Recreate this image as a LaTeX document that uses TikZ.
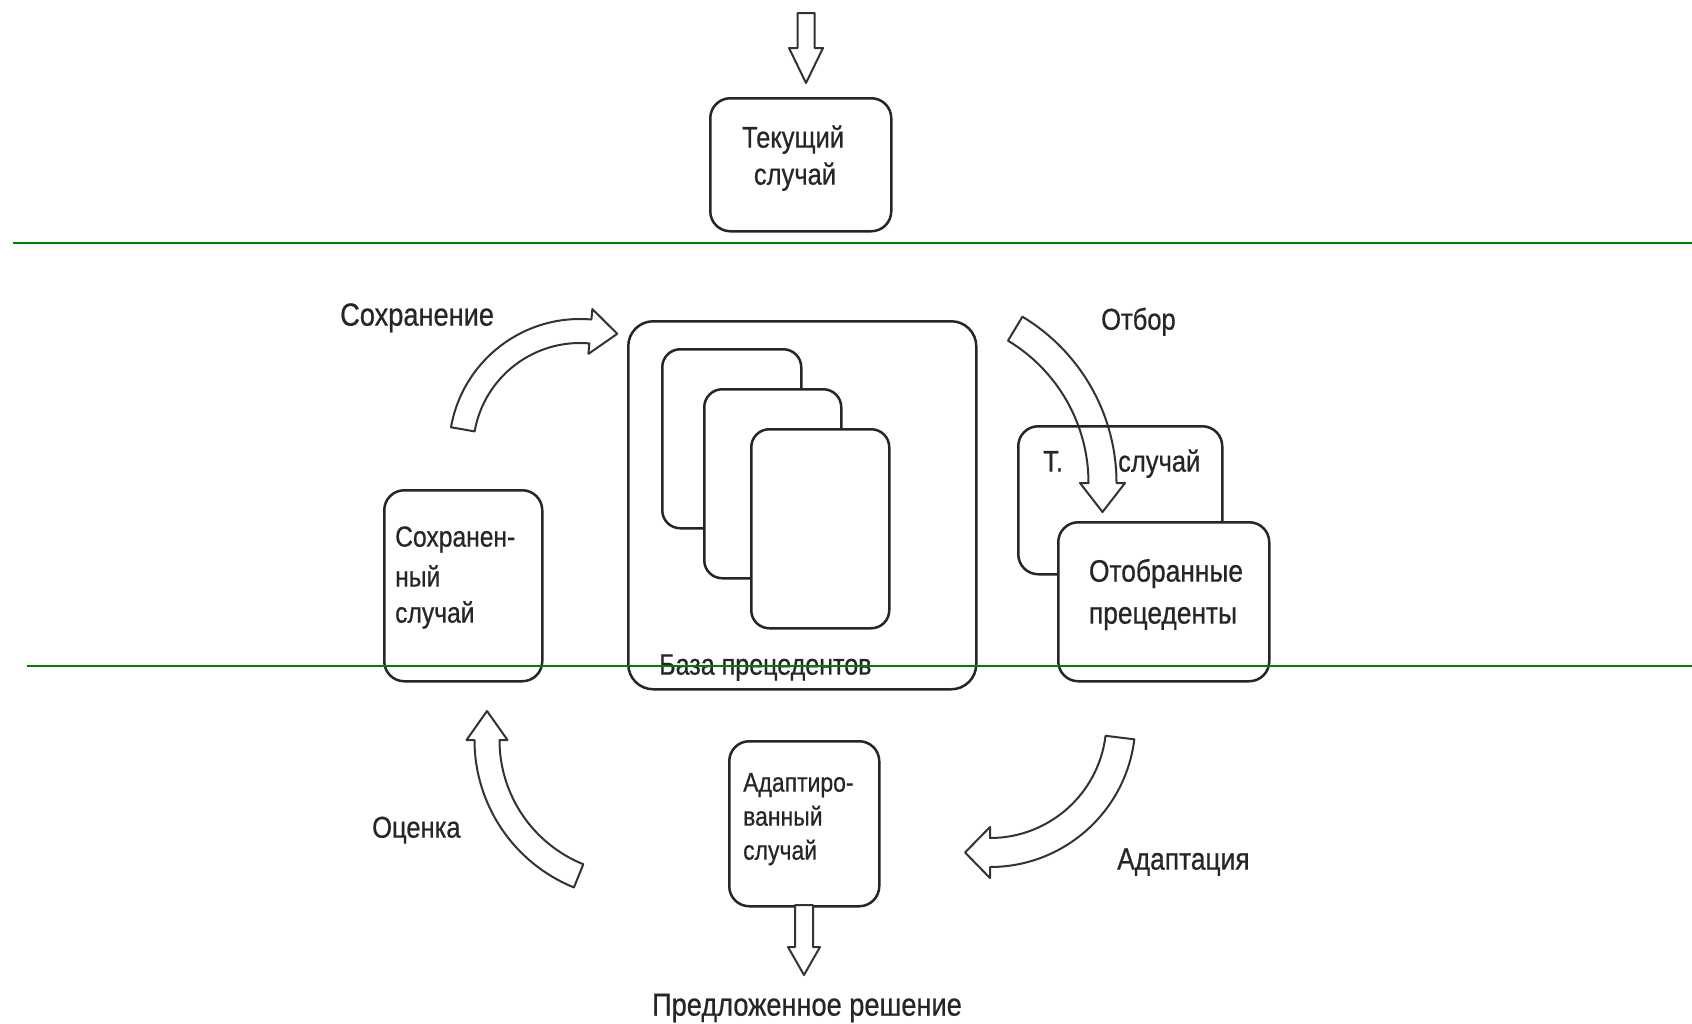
\documentclass[tikz,border=0pt]{standalone}
\usepackage{fontspec}
\setmainfont{Liberation Sans}[FakeStretch=0.85,FakeBold=0.6]
\usetikzlibrary{calc}
\definecolor{guidegreen}{RGB}{0,128,0}
\newcommand{\cbarrow}[9]{%
  \pgfmathsetmacro\cbRo{#3+#6}%
  \pgfmathsetmacro\cbRi{#3-#6}%
  \pgfmathsetmacro\cbHo{#3+#7}%
  \pgfmathsetmacro\cbHi{#3-#7}%
  \pgfmathsetmacro\cbTa{#5+#9*90}%
  \draw[blockarrow] ($(#1,#2)+(#4:\cbRo)$) arc[start angle=#4, end angle=#5, radius=\cbRo]
    -- ($(#1,#2)+(#5:\cbHo)$) -- ($(#1,#2)+(#5:#3)+(\cbTa:#8)$)
    -- ($(#1,#2)+(#5:\cbHi)$) -- ($(#1,#2)+(#5:\cbRi)$)
    arc[start angle=#5, end angle=#4, radius=\cbRi] -- cycle;}
\tikzset{
  box/.style={draw=black!85, line width=2.5pt, rounded corners=20pt, fill=white, inner sep=0pt, anchor=north west},
  lbl/.style={inner sep=0pt, font=\fontsize{30}{37}\selectfont, text=black!85},
  blockarrow/.style={draw=black!80, line width=2pt, fill=white, line join=round},
  guide/.style={draw=guidegreen, line width=2pt}
}
\begin{document}
\begin{tikzpicture}[x=1pt,y=-1pt]
\useasboundingbox (0,0) rectangle (1692,1023);
\fill[white] (0,0) rectangle (1692,1023);

% top input arrow
\draw[blockarrow] (797.5,13) -- (814.5,13) -- (814.5,48) -- (823,48) -- (806,83) -- (789,48) -- (797.5,48) -- cycle;

% current case
\node[box, minimum width=181pt, minimum height=133pt] (cur) at (709,97) {};
\node[lbl, anchor=mid] (curt1) at (793,145) {Текущий};
\node[lbl, anchor=mid] (curt2) at (795,182) {случай};

% case base
\node[box, rounded corners=25pt, minimum width=348pt, minimum height=368pt] (base) at (627,320) {};
\node[box, rounded corners=18pt, minimum width=139pt, minimum height=179pt] (card1) at (661,348) {};
\node[box, rounded corners=18pt, minimum width=137pt, minimum height=189pt] (card2) at (703,388) {};
\node[box, rounded corners=18pt, minimum width=138pt, minimum height=199pt] (card3) at (750,428) {};
\node[lbl, anchor=mid west, font=\fontsize{29.5}{35}\selectfont] (baset) at (659,672) {База прецедентов};

% retrieved cases
\cbarrow{922.5}{483}{180}{-59}{0}{14}{22.5}{29}{1}
\node[box, fill=none, minimum width=204pt, minimum height=148pt] (tbox) at (1017,425) {};
\node[lbl, anchor=mid west] (tb1) at (1043,469) {Т.};
\node[lbl, anchor=mid west] (tb2) at (1118,469) {случай};
\node[box, minimum width=211pt, minimum height=159pt] (sel) at (1057,521) {};
\node[lbl, anchor=mid, font=\fontsize{31}{37}\selectfont] (selt1) at (1166,579) {Отобранные};
\node[lbl, anchor=mid, font=\fontsize{31}{37}\selectfont] (selt2) at (1163,621) {прецеденты};
\node[lbl, anchor=mid west] (otbor) at (1101,327) {Отбор};

% retained case
\node[box, minimum width=158pt, minimum height=191pt] (saved) at (383,489) {};
\node[lbl, anchor=mid west, font=\fontsize{29}{36}\selectfont] (sv1) at (395,544) {Сохранен-};
\node[lbl, anchor=mid west, font=\fontsize{29}{36}\selectfont] (sv2) at (395,584) {ный};
\node[lbl, anchor=mid west, font=\fontsize{29}{36}\selectfont] (sv3) at (395,620) {случай};
\node[lbl, anchor=mid west, font=\fontsize{32}{38}\selectfont] (savelbl) at (340,323) {Сохранение};
\cbarrow{580}{450}{119}{190}{275}{12}{22.5}{27}{1}

% adapted case
\node[box, minimum width=150pt, minimum height=165pt] (adapt) at (728,740) {};
\node[lbl, anchor=mid west, font=\fontsize{27}{33}\selectfont] (ad1) at (743,789) {Адаптиро-};
\node[lbl, anchor=mid west, font=\fontsize{27}{33}\selectfont] (ad2) at (743,823) {ванный};
\node[lbl, anchor=mid west, font=\fontsize{27}{33}\selectfont] (ad3) at (743,857) {случай};
\draw[blockarrow] (795,905) -- (813,905) -- (813,947) -- (820,947) -- (804,975) -- (788,947) -- (795,947) -- cycle;
\node[lbl, anchor=mid, font=\fontsize{32}{38}\selectfont] (sol) at (807,1013) {Предложенное решение};

% adaptation and evaluation arrows
\cbarrow{990}{721.6}{130.9}{7}{90}{14.5}{25.5}{25}{1}
\node[lbl, anchor=mid west, font=\fontsize{31}{37}\selectfont] (adlbl) at (1117,867) {Адаптация};
\cbarrow{633.5}{740}{146.5}{112}{180}{12.5}{20.5}{29}{1}
\node[lbl, anchor=mid west] (oclbl) at (372,835) {Оценка};

% guide lines
\draw[guide] (13,243) -- (1692,243);
\draw[guide] (27,666) -- (1692,666);
\end{tikzpicture}
\end{document}
